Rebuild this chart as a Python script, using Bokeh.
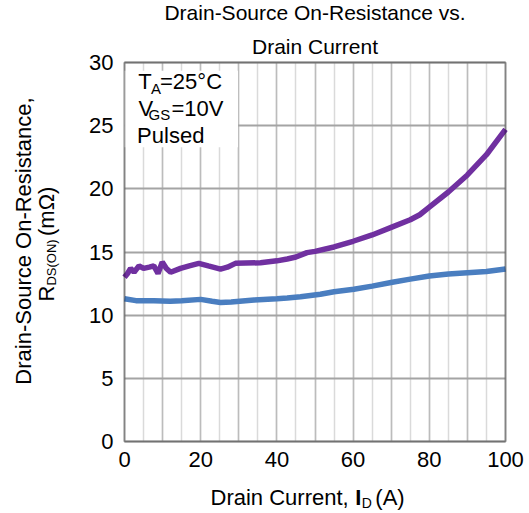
import math
from bokeh.plotting import figure
from bokeh.models import Label, BoxAnnotation, Range1d, Grid, SingleIntervalTicker, FixedTicker
from bokeh.embed import file_html
from bokeh.resources import INLINE

# ---- data ----
purple_x = [0, 0.8, 1.6, 2.5, 3.8, 5, 6.5, 7.7, 8.8, 9.9, 11, 12.1, 14.7, 17, 19.5, 22,
            25.2, 27, 29.1, 35.7, 40, 42.7, 45, 47.9, 50, 55, 60, 65, 70, 75, 77.5, 80,
            85, 90, 95, 100]
purple_y = [13.0, 13.3, 13.7, 13.4, 13.9, 13.7, 13.8, 13.9, 13.3, 14.2, 13.7, 13.4, 13.7,
            13.9, 14.1, 13.9, 13.65, 13.8, 14.1, 14.15, 14.3, 14.45, 14.6, 14.95, 15.05,
            15.4, 15.85, 16.35, 16.95, 17.55, 17.95, 18.55, 19.75, 21.1, 22.7, 24.7]
blue_x = [0, 3, 7.7, 12, 15, 20, 23, 25.2, 28, 34, 40, 42.7, 46.2, 51.4, 55, 60.2, 65,
          70.3, 75, 80, 85, 90, 95, 100]
blue_y = [11.3, 11.15, 11.15, 11.1, 11.15, 11.25, 11.1, 11.0, 11.05, 11.2, 11.3, 11.35,
          11.45, 11.65, 11.85, 12.05, 12.3, 12.6, 12.85, 13.1, 13.25, 13.35, 13.45, 13.65]
x_ticks = [0, 20, 40, 60, 80, 100]
y_ticks = [0, 5, 10, 15, 20, 25, 30]
x_lim = (0, 100)
y_lim = (0, 30)
title_lines = ["Drain-Source On-Resistance vs.", "Drain Current"]

FONT = "Liberation Sans"
W, H = 529, 513
# plot-area edges in canvas pixels
FL, FR, FT, FB = 124, 505, 62, 441
sx = (FR - FL) / (x_lim[1] - x_lim[0])
sy = (FB - FT) / (y_lim[1] - y_lim[0])
x_range = Range1d(x_lim[0] - FL / sx, x_lim[1] + (W - FR) / sx)
y_range = Range1d(y_lim[0] - (H - FB) / sy, y_lim[1] + FT / sy)

p = figure(width=W, height=H, x_range=x_range, y_range=y_range,
           output_backend="svg", toolbar_location=None, min_border=0)
p.min_border_left = p.min_border_right = p.min_border_top = p.min_border_bottom = 0
p.background_fill_color = "white"
p.border_fill_color = "white"
p.outline_line_color = None

# grids (limited to the plot area)
p.xgrid.visible = False
p.ygrid.visible = False
has_cb = "cross_bounds" in Grid.properties()
grid_specs = [(0, 5, "#dadada", 1.5, x_lim, y_lim), (0, 10, "#bcbcbc", 1.5, x_lim, y_lim),
              (1, 5, "#a4a4a4", 2, y_lim, x_lim)]
for dim, step, col, w, b, cb in grid_specs:
    kw = dict(dimension=dim, ticker=SingleIntervalTicker(interval=step),
              grid_line_color=col, grid_line_width=w, bounds=b)
    if has_cb:
        kw["cross_bounds"] = cb
        p.add_layout(Grid(**kw), "center")
    else:
        import numpy as np
        vals = np.arange(b[0], b[1] + 1e-9, step)
        if dim == 0:
            p.segment(vals, cb[0], vals, cb[1], line_color=col, line_width=w, level="underlay")
        else:
            p.segment(cb[0], vals, cb[1], vals, line_color=col, line_width=w, level="underlay")

for ax in (p.xaxis, p.yaxis):
    ax.axis_line_color = None
    ax.major_tick_line_color = None
    ax.minor_tick_line_color = None
    ax.major_label_text_font = FONT
    ax.major_label_text_font_size = "22px"
    ax.major_label_text_color = "black"
    ax.fixed_location = 0
p.xaxis.ticker = FixedTicker(ticks=x_ticks)
p.yaxis.ticker = FixedTicker(ticks=y_ticks)
p.xaxis.major_label_standoff = 4
p.yaxis.major_label_standoff = 5

p.line(blue_x, blue_y, line_color="#4a7ec0", line_width=5.5)
p.line(purple_x, purple_y, line_color="#7030a0", line_width=5.5)

# annotation box (white) and plot-area border
p.add_layout(BoxAnnotation(left=0, right=29.8, bottom=23.3, top=29.35, fill_color="white",
                           fill_alpha=1, line_alpha=0))
p.add_layout(BoxAnnotation(left=x_lim[0], right=x_lim[1], bottom=y_lim[0], top=y_lim[1],
                           fill_alpha=0, line_color="black", line_width=2))

K = 0.32  # baseline correction (fraction of font size)

def lab(text, x, y, size=22, align="left", angle=0, style="normal", units="data"):
    d = K * size
    if units == "data":
        y = y + d / sy
    elif angle == 0:
        y = y - d
    else:
        x = x - d
    p.add_layout(Label(x=x, y=y, text=text, text_font=FONT, text_font_size=f"{size}px",
                       text_align=align, text_baseline="alphabetic", angle=angle,
                       text_color="black", text_font_style=style,
                       x_units=units, y_units=units))

# annotation text (inside the plot area, data units)
lab("T", 3.62, 27.92)
lab("A", 6.96, 27.57, size=15)
lab("=25°C", 9.32, 27.92)
lab("V", 3.67, 25.81)
lab("GS", 6.30, 25.54, size=15)
lab("=10V", 12.34, 25.81)
lab("Pulsed", 3.31, 23.69)

# title (canvas pixels)
lab(title_lines[0], 314.5, 18.5, size=21, align="center", units="canvas")
lab(title_lines[1], 314.5, 52.5, size=21, align="center", units="canvas")

# x axis label
lab("Drain Current, ", 210, 504, units="canvas")
lab("I", 354.7, 504, style="bold", units="canvas")
lab("D", 361.2, 506.5, size=14, units="canvas")
lab("(A)", 374.8, 504, units="canvas")

# y axis label
a = math.pi / 2
lab("Drain-Source On-Resistance,", 30, 240.5, align="center", angle=a, units="canvas")
lab("R", 53, 301, angle=a, units="canvas")
lab("DS(ON)", 55.5, 285.1, size=13, angle=a, units="canvas")
lab("(mΩ)", 53, 235.5, angle=a, units="canvas")

open("out.html", "w").write(file_html(p, INLINE))
